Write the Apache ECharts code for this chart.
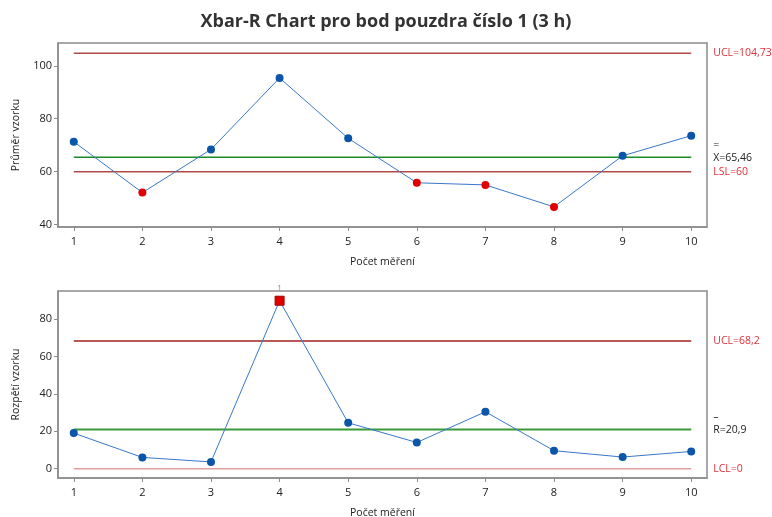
<!DOCTYPE html>
<html>
<head>
<meta charset="utf-8">
<script src="https://cdn.jsdelivr.net/npm/echarts@6/dist/echarts.min.js"></script>
<style>
html,body{margin:0;padding:0;background:#fff;}
#c{width:772px;height:517px;}
</style>
</head>
<body>
<div id="c"></div>
<script>
// ---- data ----
const samples = [1,2,3,4,5,6,7,8,9,10];
const xbarValues = [71.3,52.1,68.4,95.4,72.6,55.8,55.0,46.7,66.0,73.6];
const rangeValues = [19.0,6.0,3.6,89.8,24.5,14.0,30.4,9.6,6.2,9.2];
const xbarUCL = 104.73, xbarMean = 65.46, xbarLSL = 60;
const rUCL = 68.2, rMean = 20.9, rLCL = 0;
const xbarTicks = [40,60,80,100];
const rTicks = [0,20,40,60,80];
const xTicks = [1,2,3,4,5,6,7,8,9,10];
const fmt = v => String(v).replace('.', ',');

const FONT = 'Open Sans';
const BLUE = '#0b56a8';
const LINE = '#3a78c8';
const RED = '#e00000';
const CL_RED = '#b04a4a';
const GREEN = '#1a8a2a';
const LBL_RED = '#e0303a';
const AXC = '#8c8c8c';

function xAxisCfg(grid){
  return {
    type:'value', gridIndex:grid, min:0.77, max:10.23,
    name:'Počet měření', nameLocation:'middle', nameGap:30,
    nameTextStyle:{fontFamily:FONT,fontSize:10.5,color:'#222'},
    axisLine:{show:true,onZero:false,lineStyle:{color:AXC,width:1.5}},
    axisTick:{show:true,length:4,customValues:xTicks,lineStyle:{color:AXC}},
    axisLabel:{customValues:xTicks,fontFamily:FONT,fontSize:11,color:'#222',margin:9},
    splitLine:{show:false}
  };
}
function yAxisCfg(grid,min,max,ticks,name){
  return {
    type:'value', gridIndex:grid, min:min, max:max,
    name:name, nameLocation:'middle', nameGap:36,
    nameTextStyle:{fontFamily:FONT,fontSize:10.5,color:'#222'},
    axisLine:{show:true,lineStyle:{color:AXC,width:1.5}},
    axisTick:{show:true,length:4,customValues:ticks,lineStyle:{color:AXC}},
    axisLabel:{customValues:ticks,fontFamily:FONT,fontSize:11,color:'#222',margin:6},
    splitLine:{show:false}
  };
}
function ctrlLine(xi,yi,val,color,width,label,lblColor,offsetY,rich){
  const first = samples[0], last = samples[samples.length-1];
  return {
    type:'line', xAxisIndex:xi, yAxisIndex:yi, symbol:'none', silent:true,
    lineStyle:{color:color,width:width}, z:1, clip:false,
    data:[[first,val],[last,val]],
    endLabel:{show:true,distance:22,offset:[0,offsetY||0],
      formatter:label,fontFamily:FONT,fontSize:10.5,color:lblColor,rich:rich||{}}
  };
}

const xbarData = samples.map((s,i)=>({
  value:[s,xbarValues[i]],
  itemStyle:{color: xbarValues[i] < xbarLSL ? RED : BLUE}
}));
const rData = samples.map((s,i)=>{
  const out = rangeValues[i] > rUCL;
  return {
    value:[s,rangeValues[i]],
    symbol: out ? 'rect' : 'circle',
    symbolSize: out ? 9 : 8,
    itemStyle:{color: out ? RED : BLUE, borderColor: out ? '#a00000' : BLUE, borderWidth: out?1:0},
    label: out ? {show:true,position:'top',distance:4,formatter:'1',fontFamily:FONT,fontSize:8,color:'#888'} : {show:false}
  };
});

const richBar = {
  b:{fontFamily:FONT,fontSize:10.5,color:'#222',lineHeight:13},
  t:{fontFamily:FONT,fontSize:10.5,color:'#222',lineHeight:13}
};

const chart = echarts.init(document.getElementById('c'),null,{renderer:'canvas'});
chart.setOption({
  animation:false,
  backgroundColor:'#fff',
  title:{text:'Xbar-R Chart pro bod pouzdra číslo 1 (3 h)',left:'center',top:8,
    textStyle:{fontFamily:FONT,fontSize:18,fontWeight:'bold',color:'#333'}},
  grid:[
    {left:58,top:43,width:649,height:184,show:true,borderColor:AXC,borderWidth:1.5,backgroundColor:'transparent',outerBoundsMode:'none',containLabel:false},
    {left:58,top:291,width:649,height:187,show:true,borderColor:AXC,borderWidth:1.5,backgroundColor:'transparent',outerBoundsMode:'none',containLabel:false}
  ],
  xAxis:[xAxisCfg(0),xAxisCfg(1)],
  yAxis:[
    yAxisCfg(0,39.1,108.6,xbarTicks,'Průměr vzorku'),
    yAxisCfg(1,-5,95,rTicks,'Rozpětí vzorku')
  ],
  series:[
    ctrlLine(0,0,xbarUCL,CL_RED,1.5,'UCL='+fmt(xbarUCL),LBL_RED,0),
    ctrlLine(0,0,xbarMean,GREEN,1.5,'{b|=}\n{t|X='+fmt(xbarMean)+'}','#222',-6,richBar),
    ctrlLine(0,0,xbarLSL,CL_RED,1.5,'LSL='+fmt(xbarLSL),LBL_RED,0),
    {type:'line',xAxisIndex:0,yAxisIndex:0,data:xbarData,symbol:'circle',symbolSize:8,
      lineStyle:{color:LINE,width:1},z:3},
    ctrlLine(1,1,rUCL,'#a02020',1.5,'UCL='+fmt(rUCL),LBL_RED,0),
    ctrlLine(1,1,rMean,'#3a9a3a',2,'{b|–}\n{t|R='+fmt(rMean)+'}','#222',-6,richBar),
    ctrlLine(1,1,rLCL,'#e0a0a0',1.5,'LCL='+fmt(rLCL),LBL_RED,0),
    {type:'line',xAxisIndex:1,yAxisIndex:1,data:rData,symbol:'circle',symbolSize:8,
      lineStyle:{color:LINE,width:1},z:3}
  ]
});
</script>
</body>
</html>
